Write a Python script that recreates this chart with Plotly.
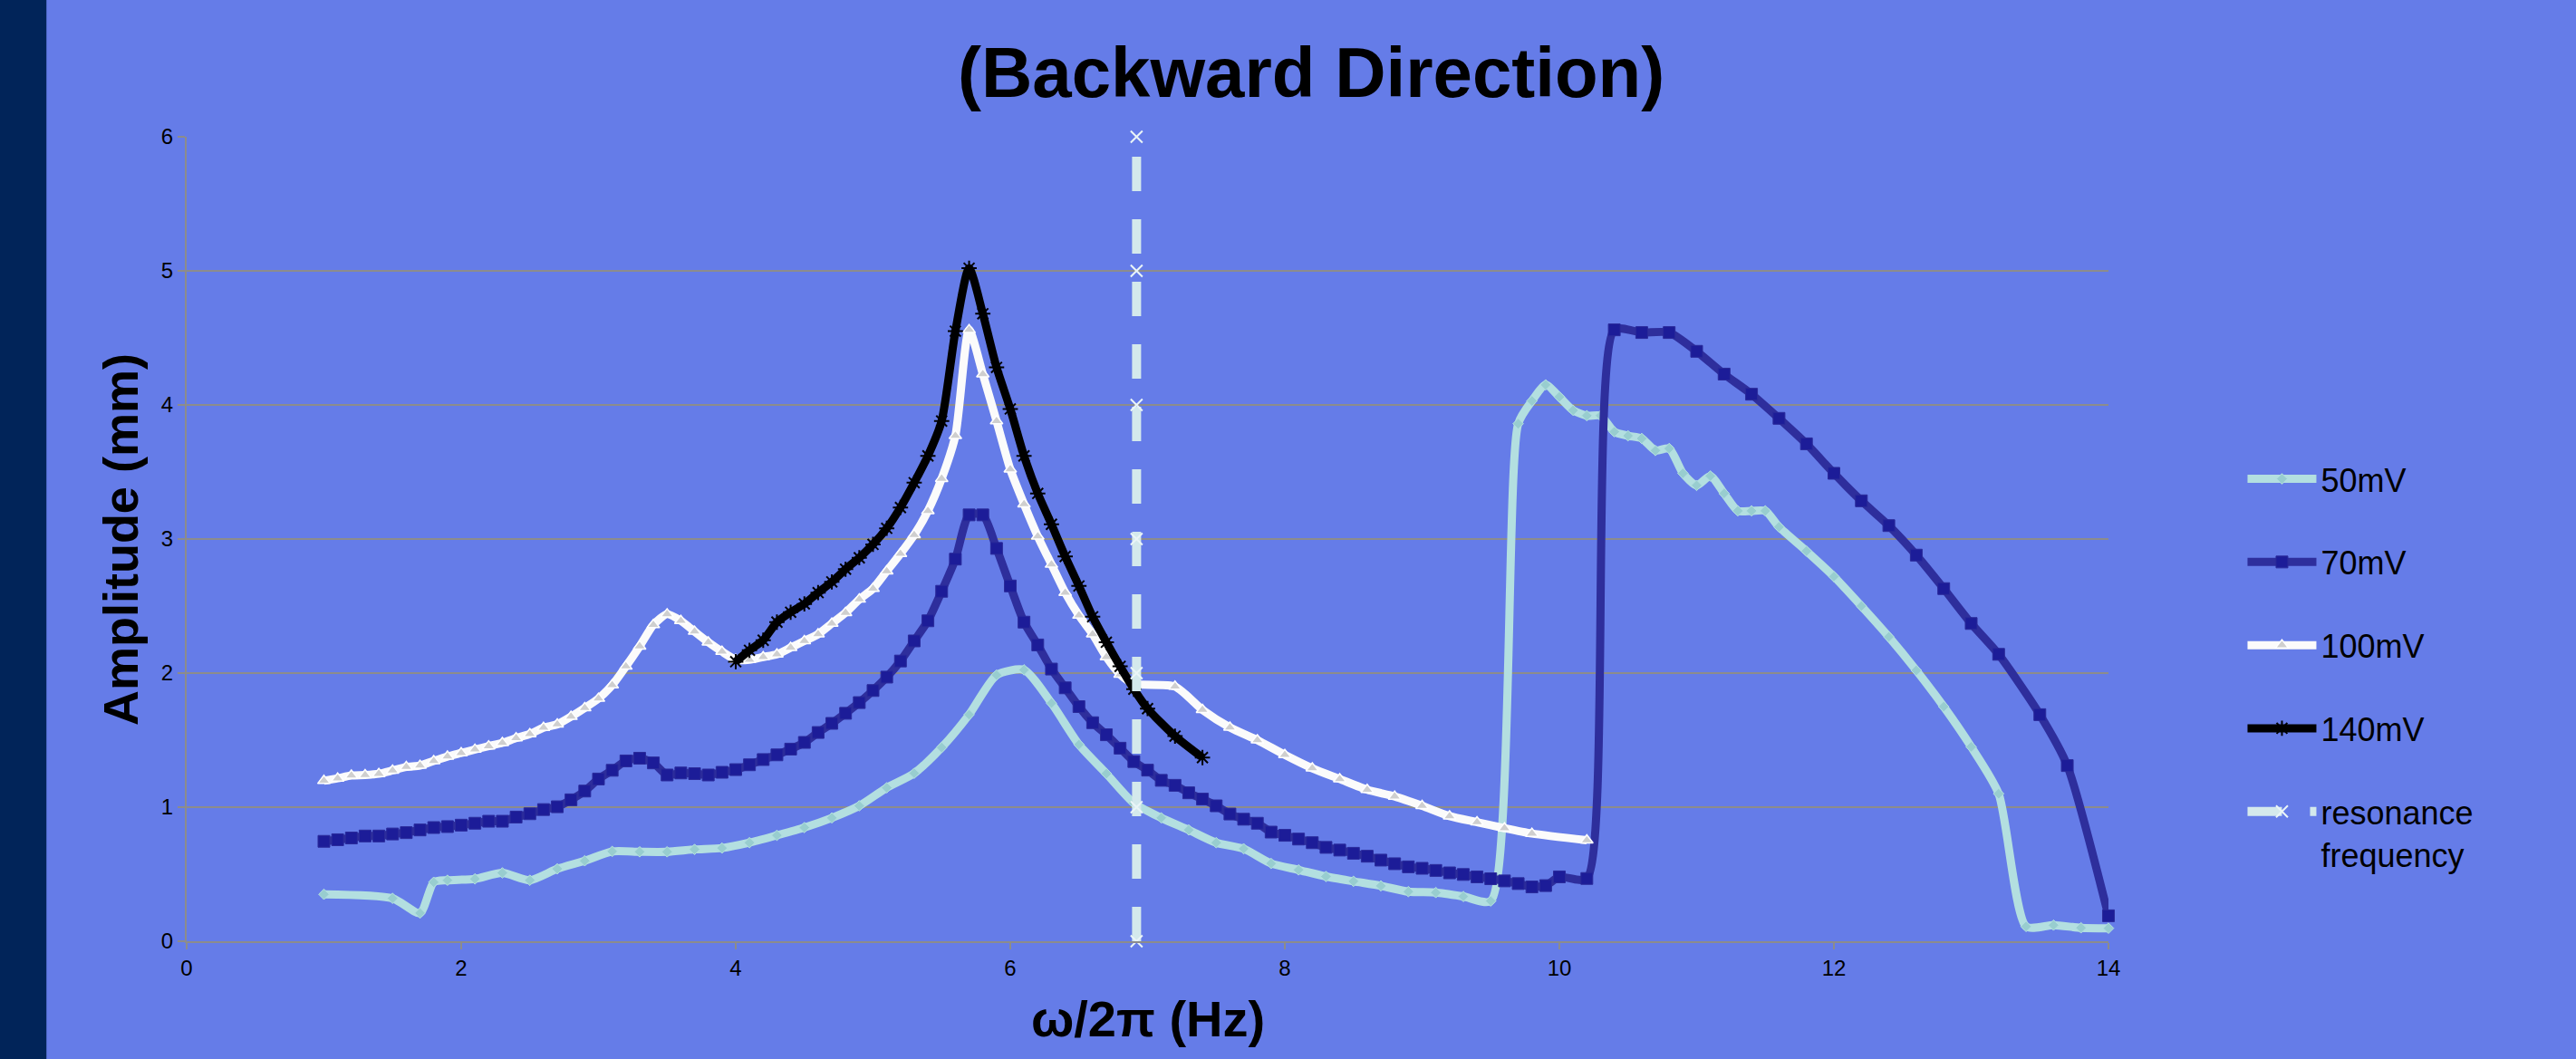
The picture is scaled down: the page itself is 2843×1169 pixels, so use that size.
import plotly.graph_objects as go

# ---------------- data ----------------
x50 = [1.0, 1.5, 1.7, 1.8, 1.9, 2.1, 2.3, 2.5, 2.7, 2.9,
       3.1, 3.3, 3.5, 3.7, 3.9, 4.1, 4.3, 4.5, 4.7, 4.9, 5.1, 5.3, 5.5, 5.7, 5.9, 6.1,
       6.3, 6.5, 6.7, 6.9, 7.1, 7.3, 7.5, 7.7, 7.9, 8.1, 8.3, 8.5, 8.7, 8.9, 9.1, 9.3, 9.5,
       9.7, 9.8, 9.9, 10.0, 10.1, 10.2, 10.3, 10.4, 10.5, 10.6, 10.7, 10.8, 10.9, 11.0,
       11.1, 11.2, 11.3, 11.4, 11.5, 11.6,
       11.8, 12.0, 12.2, 12.4, 12.6, 12.8, 13.0, 13.2, 13.4, 13.6, 13.8, 14.0]
y50 = [0.35, 0.32, 0.21, 0.44, 0.455, 0.465, 0.51, 0.455, 0.54, 0.60,
       0.67, 0.667, 0.667, 0.685, 0.695, 0.735, 0.79, 0.848, 0.92, 1.01, 1.145, 1.253,
       1.445, 1.69, 1.985, 2.024, 1.776, 1.467, 1.25, 1.03, 0.92, 0.83, 0.735, 0.69, 0.58,
       0.532, 0.483, 0.447, 0.413, 0.37, 0.363, 0.334, 0.30,
       3.86, 4.03, 4.15, 4.06, 3.96, 3.92, 3.92, 3.80, 3.77, 3.75, 3.66, 3.675, 3.49, 3.40,
       3.47, 3.34, 3.21, 3.21, 3.21, 3.09,
       2.91, 2.72, 2.50, 2.27, 2.02, 1.75, 1.45, 1.10, 0.11, 0.12, 0.10, 0.097]

x70 = [1.0, 1.1, 1.2, 1.3, 1.4, 1.5, 1.6, 1.7, 1.8, 1.9,
       2.0, 2.1, 2.2, 2.3, 2.4, 2.5, 2.6, 2.7, 2.8, 2.9,
       3.0, 3.1, 3.2, 3.3, 3.4, 3.5, 3.6, 3.7, 3.8, 3.9,
       4.0, 4.1, 4.2, 4.3, 4.4, 4.5, 4.6, 4.7, 4.8, 4.9,
       5.0, 5.1, 5.2, 5.3, 5.4, 5.5, 5.6, 5.7, 5.8, 5.9,
       6.0, 6.1, 6.2, 6.3, 6.4, 6.5, 6.6, 6.7, 6.8, 6.9,
       7.0, 7.1, 7.2, 7.3, 7.4, 7.5, 7.6, 7.7, 7.8, 7.9,
       8.0, 8.1, 8.2, 8.3, 8.4, 8.5, 8.6, 8.7, 8.8, 8.9,
       9.0, 9.1, 9.2, 9.3, 9.4, 9.5, 9.6, 9.7, 9.8, 9.9,
       10.0, 10.2, 10.4, 10.6, 10.8, 11.0, 11.2, 11.4, 11.6, 11.8,
       12.0, 12.2, 12.4, 12.6, 12.8, 13.0, 13.2, 13.5, 13.7, 14.0]
y70 = [0.745, 0.757, 0.77, 0.785, 0.785, 0.80, 0.81, 0.83, 0.848, 0.855,
       0.866, 0.88, 0.895, 0.895, 0.926, 0.951, 0.982, 1.003, 1.055, 1.12,
       1.21, 1.275, 1.345, 1.365, 1.33, 1.24, 1.255, 1.25, 1.24, 1.26,
       1.28, 1.316, 1.355, 1.39, 1.433, 1.483, 1.557, 1.625, 1.70, 1.78,
       1.87, 1.97, 2.09, 2.24, 2.39, 2.61, 2.85, 3.18, 3.18, 2.93,
       2.65, 2.38, 2.21, 2.03, 1.89, 1.75, 1.63, 1.54, 1.44, 1.34,
       1.276, 1.20, 1.163, 1.107, 1.06, 1.01, 0.949, 0.91, 0.88, 0.814,
       0.79, 0.762, 0.735, 0.70, 0.68, 0.656, 0.634, 0.605, 0.578, 0.555,
       0.544, 0.528, 0.51, 0.498, 0.48, 0.466, 0.45, 0.43, 0.405, 0.415,
       0.48, 0.468, 4.56, 4.54, 4.54, 4.40, 4.23, 4.08, 3.90, 3.71,
       3.49, 3.285, 3.10, 2.88, 2.63, 2.37, 2.14, 1.69, 1.31, 0.19]

x100 = [1.0, 1.1, 1.2, 1.3, 1.4, 1.5, 1.6, 1.7, 1.8, 1.9,
        2.0, 2.1, 2.2, 2.3, 2.4, 2.5, 2.6, 2.7, 2.8, 2.9,
        3.0, 3.1, 3.2, 3.3, 3.4, 3.5, 3.6, 3.7, 3.8, 3.9,
        4.0, 4.1, 4.2, 4.3, 4.4, 4.5, 4.6, 4.7, 4.8, 4.9,
        5.0, 5.1, 5.2, 5.3, 5.4, 5.5, 5.6, 5.7, 5.8, 5.9,
        6.0, 6.1, 6.2, 6.3, 6.4, 6.5, 6.6, 6.7, 6.8, 6.9,
        7.2, 7.4, 7.6, 7.8, 8.0, 8.2, 8.4, 8.6, 8.8, 9.0,
        9.2, 9.4, 9.6, 9.8, 10.2]
y100 = [1.197, 1.215, 1.236, 1.24, 1.249, 1.274, 1.30, 1.31, 1.345, 1.378,
        1.404, 1.43, 1.455, 1.48, 1.515, 1.546, 1.593, 1.618, 1.675, 1.74,
        1.81, 1.91, 2.05, 2.20, 2.36, 2.44, 2.39, 2.31, 2.23, 2.16,
        2.10, 2.10, 2.12, 2.14, 2.19, 2.24, 2.29, 2.37, 2.45, 2.55,
        2.63, 2.76, 2.89, 3.03, 3.21, 3.45, 3.77, 4.56, 4.23, 3.88,
        3.52, 3.26, 3.02, 2.81, 2.60, 2.43, 2.29, 2.12, 1.99, 1.92,
        1.90, 1.726, 1.595, 1.50, 1.39, 1.29, 1.21, 1.13, 1.08, 1.01,
        0.933, 0.888, 0.843, 0.803, 0.753]

x140 = [4.0, 4.1, 4.2, 4.3, 4.4, 4.5, 4.6, 4.7, 4.8, 4.9,
        5.0, 5.1, 5.2, 5.3, 5.4, 5.5, 5.6, 5.7, 5.8, 5.9,
        6.0, 6.1, 6.2, 6.3, 6.4, 6.5, 6.6, 6.7, 6.8, 6.9,
        7.0, 7.2, 7.4]
y140 = [2.085, 2.17, 2.245, 2.38, 2.454, 2.516, 2.60, 2.68, 2.775, 2.86,
        2.96, 3.08, 3.235, 3.42, 3.62, 3.88, 4.55, 5.02, 4.68, 4.28,
        3.97, 3.62, 3.34, 3.11, 2.87, 2.65, 2.42, 2.23, 2.05, 1.88,
        1.735, 1.53, 1.37]

x_res = [6.92, 6.92, 6.92, 6.92, 6.92, 6.92, 6.92]
y_res = [0, 1, 2, 3, 4, 5, 6]

names = ["50mV", "70mV", "100mV", "140mV", "resonance<br>frequency"]
x_ticks = [0, 2, 4, 6, 8, 10, 12, 14]
y_ticks = [0, 1, 2, 3, 4, 5, 6]

title_text = "(Backward Direction)"
x_title = "ω/2π (Hz)"
y_title = "Amplitude (mm)"

# ---------------- style ----------------
BG = "#657ce8"
GRID = "#8c8c8c"
FONT = "Liberation Sans, Arial, sans-serif"
LW = 9
SM = 0.65

fig = go.Figure()

fig.add_trace(go.Scatter(
    x=x50, y=y50, name=names[0], legendgroup="g1", mode="lines+markers",
    line=dict(color="#b3dfe0", width=LW, shape="spline", smoothing=SM),
    marker=dict(symbol="diamond", size=9, color="#98cdcf",
                line=dict(color="#b3dfe0", width=1)),
    cliponaxis=False))

fig.add_trace(go.Scatter(
    x=x70, y=y70, name=names[1], legendgroup="g2", mode="lines+markers",
    line=dict(color="#2e2e9c", width=LW, shape="spline", smoothing=SM),
    marker=dict(symbol="square", size=13, color="#1c1c98",
                line=dict(color="#2a2a9a", width=1)),
    cliponaxis=False))

fig.add_trace(go.Scatter(
    x=x100, y=y100, name=names[2], legendgroup="g3", mode="lines+markers",
    line=dict(color="#fbfbfb", width=LW, shape="spline", smoothing=SM),
    marker=dict(symbol="triangle-up", size=12, color="#cfcfcf",
                line=dict(color="#ffffff", width=1.5)),
    cliponaxis=False))

fig.add_trace(go.Scatter(
    x=x140, y=y140, name=names[3], legendgroup="g4", mode="lines+markers",
    line=dict(color="#000000", width=LW, shape="spline", smoothing=SM),
    marker=dict(symbol="asterisk-open", size=14, color="#000000",
                line=dict(color="#000000", width=2)),
    cliponaxis=False))

fig.add_trace(go.Scatter(
    x=x_res, y=y_res, name=names[4], legendgroup="g5", mode="lines+markers",
    line=dict(color="#d4e9ec", width=10, dash="38px,31px"),
    marker=dict(symbol="x-thin-open", size=13, color="#eaf5f7",
                line=dict(color="#eaf5f7", width=2)),
    cliponaxis=False))

fig.update_xaxes(
    range=[0, 14], tickvals=x_ticks, showgrid=False, zeroline=False,
    showline=True, linecolor=GRID, linewidth=2,
    ticks="outside", ticklen=7, tickwidth=1.5, tickcolor=GRID,
    tickfont=dict(family=FONT, size=24, color="#000000"))

fig.update_yaxes(
    range=[0, 6], tickvals=y_ticks, showgrid=True, gridcolor=GRID, gridwidth=2,
    zeroline=False, showline=True, linecolor=GRID, linewidth=2,
    ticks="outside", ticklen=8, tickwidth=1.5, tickcolor=GRID,
    tickfont=dict(family=FONT, size=24, color="#000000"))

fig.update_layout(
    width=2843, height=1169,
    margin=dict(l=206, r=516, t=151, b=130, pad=0),
    paper_bgcolor=BG, plot_bgcolor=BG,
    font=dict(family=FONT, color="#000000"),
    showlegend=True,
    legend=dict(
        x=1.070, xanchor="left", y=0.6085, yanchor="top",
        bgcolor="rgba(0,0,0,0)", borderwidth=0,
        font=dict(family=FONT, size=36, color="#000000"),
        itemwidth=76, tracegroupgap=42, valign="top",
        traceorder="grouped"),
    shapes=[dict(type="rect", xref="paper", yref="paper",
                 x0=-0.2, x1=(51 - 205.8) / 2121.7, y0=-0.5, y1=1.5,
                 fillcolor="#012459", line=dict(width=0), layer="below")],
    annotations=[
        dict(text="<b>" + title_text + "</b>", xref="paper", yref="paper",
             x=0.585, y=1.0805, xanchor="center", yanchor="middle",
             showarrow=False, font=dict(family=FONT, size=78, color="#000000")),
        dict(text="<b>" + y_title + "</b>", xref="paper", yref="paper",
             x=-0.0345, y=0.4997, xanchor="center", yanchor="middle",
             textangle=-90, showarrow=False,
             font=dict(family=FONT, size=54, color="#000000")),
        dict(text="<b>" + x_title + "</b>", xref="paper", yref="paper",
             x=0.5, y=-0.0958, xanchor="center", yanchor="middle",
             showarrow=False, font=dict(family=FONT, size=56, color="#000000")),
    ],
)

fig.write_html("out.html")
